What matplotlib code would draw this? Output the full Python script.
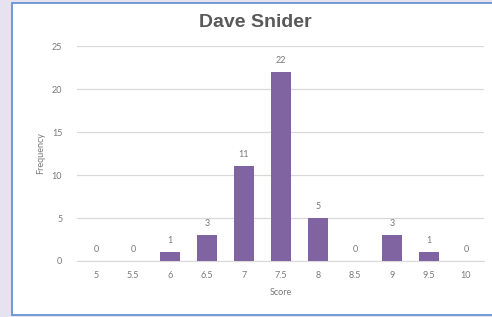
import matplotlib
matplotlib.use("Agg")
import matplotlib.pyplot as plt
from matplotlib.patches import Rectangle

# data
scores = ["5", "5.5", "6", "6.5", "7", "7.5", "8", "8.5", "9", "9.5", "10"]
frequency = [0, 0, 1, 3, 11, 22, 5, 0, 3, 1, 0]
y_ticks = [0, 5, 10, 15, 20, 25]

bar_color = "#8064A2"
text_gray = "#7a7a7a"
grid_gray = "#d9d9d9"

plt.rcParams["font.family"] = ["Lato", "DejaVu Sans"]

fig = plt.figure(figsize=(4.92, 3.17), dpi=100)
fig.patch.set_facecolor("#e6e2ef")

# white chart box with blue border, kept behind the axes
fig.patches.append(
    Rectangle((12 / 492, 2 / 317), 482 / 492, 312 / 317,
              transform=fig.transFigure, facecolor="white",
              edgecolor="#5b8bd0", linewidth=1.2, zorder=-10)
)

ax = fig.add_axes([0.1575, 0.1767, 0.827, 0.678])
ax.set_facecolor("none")

x = range(len(scores))
ax.bar(x, frequency, width=0.52, color=bar_color, zorder=3)
for xi, v in zip(x, frequency):
    ax.annotate(str(v), (xi, v), xytext=(0, 5), textcoords="offset points",
                ha="center", va="bottom", fontsize=6.5, color=text_gray)

ax.set_xlim(-0.5, len(scores) - 0.5)
ax.set_ylim(0, 25)
ax.set_yticks(y_ticks)
ax.set_xticks(list(x))
ax.set_xticklabels(scores)
ax.tick_params(axis="both", length=0, labelsize=6.5, colors=text_gray)
ax.tick_params(axis="y", pad=11)
ax.tick_params(axis="x", pad=7)
ax.yaxis.grid(True, color=grid_gray, linewidth=0.9, zorder=0)
for side in ["top", "right", "left"]:
    ax.spines[side].set_visible(False)
ax.spines["bottom"].set_color(grid_gray)

ax.set_xlabel("Score", fontsize=6.5, color=text_gray, labelpad=6)
ax.set_ylabel("Frequency", fontsize=6.5, color=text_gray, labelpad=5)
fig.text(0.518, 0.93, "Dave Snider", ha="center", va="center",
         fontsize=14, fontweight="bold", color="#595959",
         family=["Liberation Sans", "DejaVu Sans"])

fig.savefig("out.png", dpi=100, facecolor=fig.get_facecolor())
